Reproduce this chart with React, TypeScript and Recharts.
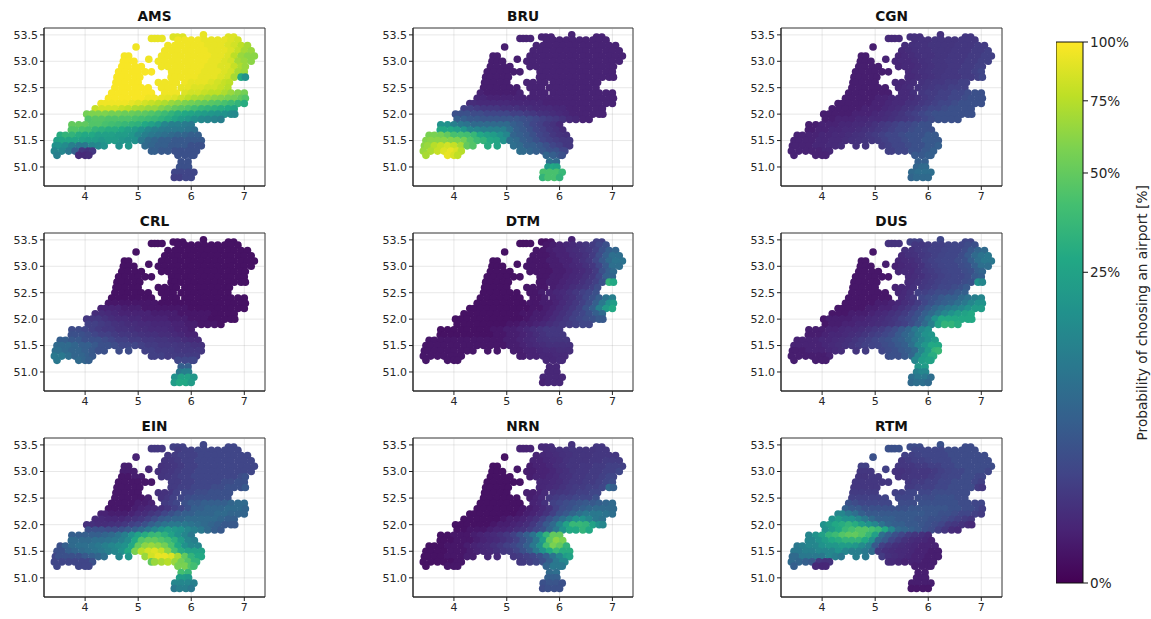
import React from 'react';
import { ScatterChart, Scatter, XAxis, YAxis, ReferenceLine, ReferenceArea, BarChart, Bar } from 'recharts';

const AIRPORTS = ['AMS', 'BRU', 'CGN', 'CRL', 'DTM', 'DUS', 'EIN', 'NRN', 'RTM'];
const X_TICKS = [4, 5, 6, 7];
const Y_TICKS = [51, 51.5, 52, 52.5, 53, 53.5];
const CBAR_TICKS = [0, 25, 50, 75, 100];
const VIRIDIS = ['#440154', '#482475', '#414487', '#355f8d', '#2a788e', '#21918c', '#22a884', '#44bf70', '#7ad151', '#bddf26', '#fde725'];

const ROW_LATS = [53.5, 53.46, 53.43, 53.4, 53.3, 53.27, 53.2, 53.1, 53.04, 53, 52.9, 52.8, 52.7, 52.6, 52.5, 52.4, 52.3, 52.2, 52.1, 52, 51.9, 51.8, 51.7, 51.6, 51.5, 51.4, 51.3, 51.22, 51.1, 51, 50.9, 50.8];
const ROW_LONS = [
  [6.23],
  [5.66, 5.74, 5.84, 6.7, 6.8],
  [5.25, 5.31, 5.37, 5.45],
  [5.75, 5.88, 6, 6.13, 6.25, 6.38, 6.5, 6.63, 6.75, 6.88],
  [5.56, 5.69, 5.81, 5.94, 6.06, 6.19, 6.31, 6.44, 6.56, 6.69, 6.81, 6.94, 7.06],
  [4.96],
  [5.5, 5.63, 5.75, 5.88, 6, 6.13, 6.25, 6.38, 6.5, 6.63, 6.75, 6.88, 7, 7.13],
  [4.74, 4.82, 5.44, 5.56, 5.69, 5.81, 5.94, 6.06, 6.19, 6.31, 6.44, 6.56, 6.69, 6.81, 6.94, 7.06, 7.19],
  [5.2],
  [4.72, 4.82, 4.92, 5.38, 5.5, 5.63, 5.75, 5.88, 6, 6.13, 6.25, 6.38, 6.5, 6.63, 6.75, 6.88, 7, 7.13],
  [4.69, 4.81, 4.94, 5.06, 5.44, 5.56, 5.69, 5.81, 5.94, 6.06, 6.19, 6.31, 6.44, 6.56, 6.69, 6.81, 6.94, 7.02],
  [4.63, 4.75, 4.88, 5, 5.13, 5.25, 5.63, 5.75, 5.88, 6, 6.13, 6.25, 6.38, 6.5, 6.63, 6.75, 6.88, 7],
  [4.6, 4.69, 4.81, 4.94, 5.03, 5.62, 5.69, 5.81, 5.94, 6.06, 6.19, 6.31, 6.44, 6.56, 6.69, 6.81, 6.94, 7.02],
  [4.58, 4.63, 4.75, 4.88, 5, 5.38, 5.5, 5.63, 5.72, 5.88, 6, 6.13, 6.25, 6.38, 6.5, 6.63, 6.72],
  [4.56, 4.69, 4.81, 4.94, 5.06, 5.19, 5.44, 5.56, 5.66, 5.81, 5.94, 6.06, 6.19, 6.31, 6.44, 6.56, 6.69],
  [4.5, 4.63, 4.75, 4.88, 5, 5.13, 5.25, 5.5, 5.63, 5.72, 5.88, 6, 6.13, 6.25, 6.38, 6.5, 6.63, 6.75, 6.88, 7],
  [4.44, 4.56, 4.69, 4.81, 4.94, 5.06, 5.19, 5.31, 5.44, 5.56, 5.69, 5.81, 5.94, 6.06, 6.19, 6.31, 6.44, 6.56, 6.69, 6.81, 6.94, 7.02],
  [4.3, 4.38, 4.5, 4.63, 4.75, 4.88, 5, 5.13, 5.25, 5.38, 5.5, 5.63, 5.75, 5.88, 6, 6.13, 6.25, 6.38, 6.5, 6.63, 6.75, 6.88, 7],
  [4.19, 4.31, 4.44, 4.56, 4.69, 4.81, 4.94, 5.06, 5.19, 5.31, 5.44, 5.56, 5.69, 5.81, 5.94, 6.06, 6.19, 6.31, 6.44, 6.56, 6.69, 6.81],
  [4.03, 4.13, 4.25, 4.38, 4.5, 4.63, 4.75, 4.88, 5, 5.13, 5.25, 5.38, 5.5, 5.63, 5.75, 5.88, 6, 6.13, 6.25, 6.38, 6.5, 6.63, 6.75, 6.82],
  [4.06, 4.19, 4.31, 4.44, 4.56, 4.69, 4.81, 4.94, 5.06, 5.19, 5.31, 5.44, 5.56, 5.69, 5.81, 5.94, 6.06, 6.19, 6.31, 6.44, 6.56],
  [3.75, 3.88, 4, 4.13, 4.25, 4.38, 4.5, 4.63, 4.75, 4.88, 5, 5.13, 5.25, 5.38, 5.5, 5.63, 5.75, 5.88, 6],
  [3.74, 3.81, 3.94, 4.06, 4.19, 4.31, 4.44, 4.56, 4.69, 4.81, 4.94, 5.06, 5.19, 5.31, 5.44, 5.56, 5.69, 5.81, 5.94, 6.06],
  [3.53, 3.63, 3.75, 3.88, 4, 4.13, 4.25, 4.38, 4.5, 4.63, 4.75, 4.88, 5, 5.13, 5.25, 5.38, 5.5, 5.63, 5.75, 5.88, 6, 6.13],
  [3.47, 3.56, 3.69, 3.81, 3.94, 4.06, 4.19, 4.31, 4.44, 4.56, 4.69, 4.81, 4.94, 5.06, 5.19, 5.31, 5.44, 5.56, 5.69, 5.81, 5.94, 6.06, 6.19],
  [3.44, 3.5, 3.63, 3.75, 3.88, 4, 4.13, 4.25, 4.36, 4.64, 4.82, 5.13, 5.25, 5.38, 5.5, 5.63, 5.75, 5.88, 6, 6.13, 6.19],
  [3.42, 3.56, 3.69, 3.81, 3.94, 4.06, 4.14, 5.25, 5.31, 5.44, 5.56, 5.69, 5.81, 5.94, 6.06, 6.1],
  [3.47, 3.88, 4, 4.07, 5.75, 5.88, 6, 6.05],
  [5.81, 5.94],
  [5.78, 5.88, 5.95],
  [5.69, 5.81, 5.94, 6.05],
  [5.68, 5.78, 5.9, 6],
];

const AMS = [
  [92], [88, 88, 88, 88, 88], [92, 92, 92, 92],
  [95, 95, 95, 95, 92, 92, 92, 92, 88, 84],
  [95, 95, 95, 95, 95, 95, 92, 92, 92, 88, 84, 77, 70],
  [95],
  [95, 95, 95, 95, 95, 95, 95, 92, 92, 92, 88, 80, 70, 66],
  [97, 97, 95, 95, 95, 95, 95, 95, 95, 95, 92, 92, 88, 77, 66, 62, 62],
  [95],
  [98, 98, 98, 95, 95, 95, 95, 95, 95, 95, 95, 92, 92, 88, 84, 70, 66, 62],
  [98, 98, 98, 98, 95, 95, 95, 95, 95, 95, 95, 92, 92, 88, 88, 80, 72, 66],
  [98, 98, 98, 98, 98, 98, 95, 95, 95, 95, 95, 92, 92, 92, 88, 84, 70, 66],
  [98, 98, 98, 98, 98, 95, 95, 95, 95, 95, 92, 92, 92, 88, 84, 70, 28, 18],
  [98, 98, 98, 98, 98, 95, 95, 95, 95, 95, 92, 92, 92, 88, 84, 80, 77],
  [98, 98, 98, 98, 98, 98, 95, 95, 95, 92, 92, 88, 88, 84, 84, 80, 75],
  [98, 98, 98, 98, 98, 98, 98, 95, 95, 95, 88, 84, 84, 80, 77, 77, 72, 66, 60, 55],
  [98, 98, 98, 98, 98, 98, 95, 95, 92, 90, 88, 82, 77, 72, 70, 66, 62, 60, 57, 55, 50, 45],
  [95, 95, 95, 95, 95, 92, 88, 84, 80, 76, 72, 66, 62, 58, 55, 52, 50, 47, 45, 42, 38, 34, 30],
  [80, 84, 84, 84, 80, 77, 72, 70, 66, 66, 60, 55, 50, 47, 44, 40, 36, 34, 32, 30, 28, 26],
  [55, 58, 58, 58, 55, 55, 52, 52, 50, 48, 45, 42, 38, 34, 30, 28, 26, 24, 22, 20, 19, 18, 16, 15],
  [44, 46, 46, 44, 44, 44, 44, 42, 40, 38, 36, 33, 30, 26, 22, 20, 17, 15, 14, 13, 12],
  [50, 50, 49, 45, 45, 42, 40, 38, 36, 34, 32, 28, 24, 20, 14, 12, 12, 11, 10],
  [45, 45, 42, 40, 34, 32, 30, 30, 28, 24, 22, 18, 14, 12, 11, 10, 10, 10, 9, 8],
  [30, 34, 34, 30, 28, 28, 24, 24, 24, 22, 22, 20, 15, 12, 10, 9, 8, 7, 6, 6, 5, 5],
  [24, 26, 26, 26, 24, 22, 22, 20, 22, 22, 20, 18, 18, 10, 7, 6, 5, 5, 4, 4, 4, 4, 4],
  [18, 18, 16, 12, 10, 10, 14, 15, 18, 18, 20, 7, 6, 5, 5, 4, 4, 4, 3, 3, 3],
  [14, 14, 10, 5, 1, .8, 1, 5, 5, 4, 4, 3, 3, 3, 3, 3],
  [12, .5, .5, .6, 3, 3, 3, 3],
  [3, 3], [3, 3, 3], [2, 2, 2, 2], [1.5, 1.5, 2, 2],
];

const BRU = [
  [.3], [.3, .3, .3, .3, .3], [.3, .3, .3, .3],
  [.3, .3, .3, .3, .3, .3, .3, .3, .3, .3],
  [.3, .3, .3, .3, .3, .3, .3, .3, .3, .3, .3, .3, .3],
  [.2],
  [.3, .3, .3, .3, .3, .3, .3, .3, .3, .3, .3, .3, .3, .3],
  [.2, .2, .3, .3, .3, .3, .3, .3, .3, .3, .3, .3, .3, .3, .3, .3, .3],
  [.2],
  [.2, .2, .2, .3, .3, .3, .3, .3, .3, .3, .3, .3, .3, .3, .3, .3, .3, .3],
  [.2, .2, .2, .2, .3, .3, .3, .3, .3, .3, .3, .3, .3, .3, .3, .3, .3, .3],
  [.2, .2, .2, .2, .2, .2, .3, .3, .3, .3, .3, .3, .3, .3, .3, .3, .3, .3],
  [.2, .2, .2, .2, .2, .3, .3, .3, .3, .3, .3, .3, .3, .3, .3, .3, .3, .3],
  [.2, .2, .2, .2, .2, .3, .3, .3, .3, .3, .3, .3, .3, .3, .3, .3, .3],
  [.2, .2, .2, .2, .2, .2, .3, .3, .3, .3, .3, .3, .3, .3, .3, .3, .3],
  [.3, .2, .2, .2, .2, .2, .3, .3, .3, .3, .3, .3, .3, .3, .3, .3, .3, .3, .3, .3],
  [.4, .4, .3, .3, .3, .3, .3, .3, .3, .3, .3, .3, .3, .3, .3, .3, .3, .3, .3, .3, .3, .3],
  [.6, .6, .5, .5, .5, .5, .5, .4, .4, .4, .4, .4, .3, .3, .3, .3, .3, .3, .3, .3, .3, .3, .3],
  [1.5, 1.5, 1.2, 1, 1, 1, .8, .8, .8, .6, .6, .5, .5, .5, .4, .4, .3, .3, .3, .3, .3, .3],
  [3, 3, 3, 2.5, 2.5, 2, 2, 2, 2, 1.5, 1.5, 1.2, 1, .8, .7, .6, .5, .4, .3, .3, .3, .3, .3, .3],
  [5, 5, 4, 4, 3.5, 3.5, 3.5, 3.5, 3.5, 3.5, 3, 2.5, 2, 1.5, 1.2, 1, .8, .5, .4, .3, .3],
  [18, 18, 12, 10, 9, 7, 7, 7, 7, 7, 7, 5, 4, 3, 2, 1.5, 1, .8, .5],
  [28, 28, 28, 24, 20, 14, 14, 12, 12, 12, 12, 8, 5, 4, 3, 2, 1.5, 1, .8, .6],
  [57, 57, 55, 50, 42, 42, 40, 36, 28, 24, 22, 18, 14, 6, 5, 4, 3, 2, 1.5, 1, .8, .7],
  [60, 62, 62, 62, 60, 58, 55, 45, 38, 34, 28, 26, 18, 8, 7, 5, 4, 3, 2, 1.5, 1.2, 1, 1],
  [62, 66, 75, 80, 84, 80, 70, 50, 45, 30, 26, 8, 7, 5, 5, 4, 3, 2, 1.5, 1, 1],
  [66, 72, 80, 88, 92, 86, 75, 8, 7, 6, 5, 4, 3, 3, 2, 2],
  [70, 92, 86, 78, 6, 5, 4, 3],
  [8, 7], [22, 28, 26], [42, 42, 42, 36], [34, 42, 42, 34],
];

const CGN = [
  [.8], [.7, .7, .7, 1, 1], [.5, .5, .5, .5],
  [.7, .8, .8, .9, .9, .9, .9, 1, 1, 1],
  [.6, .7, .8, .8, .9, .9, .9, .9, 1, 1, 1, 1.2, 1.2],
  [.2],
  [.5, .6, .7, .8, .8, .9, .9, .9, 1, 1, 1, 1.2, 1.2, 1.5],
  [.2, .2, .4, .5, .6, .7, .8, .8, .9, .9, 1, 1, 1, 1.2, 1.2, 1.5, 1.5],
  [.3],
  [.2, .2, .2, .4, .5, .5, .6, .7, .8, .9, .9, 1, 1, 1, 1.2, 1.2, 1.5, 1.5],
  [.2, .2, .2, .2, .4, .5, .5, .6, .7, .8, .9, .9, 1, 1, 1.2, 1.2, 1.5, 1.5],
  [.2, .2, .2, .2, .2, .2, .5, .6, .7, .8, .9, .9, 1, 1, 1.2, 1.2, 1.5, 2],
  [.2, .2, .2, .2, .2, .5, .5, .6, .7, .8, .9, 1, 1, 1, 1.2, 1.2, 1.5, 2],
  [.2, .2, .2, .2, .2, .4, .4, .5, .6, .8, .9, 1, 1, 1.2, 1.2, 1.5, 1.5],
  [.2, .2, .2, .2, .2, .2, .4, .5, .6, .8, .9, 1, 1.2, 1.2, 1.5, 1.5, 1.5],
  [.2, .2, .2, .2, .2, .2, .2, .5, .5, .7, 1, 1.2, 1.2, 1.5, 1.5, 2, 2, 2.5, 3, 3],
  [.2, .2, .2, .2, .2, .3, .3, .4, .5, .5, .6, .8, 1, 1.2, 1.5, 1.5, 2, 2, 2.5, 3, 3, 3],
  [.2, .2, .2, .2, .2, .2, .3, .3, .4, .5, .5, .7, .8, 1, 1.2, 1.5, 2, 2, 2.5, 3, 3, 3, 3],
  [.2, .2, .2, .2, .2, .3, .3, .3, .4, .5, .6, .8, .9, 1.2, 1.5, 2, 2, 2.5, 3, 3, 3, 3],
  [.2, .2, .2, .2, .2, .3, .3, .3, .4, .5, .6, .7, .9, 1.2, 1.5, 2, 2.5, 3, 3, 3, 3, 3, 3, 3],
  [.2, .2, .3, .3, .3, .4, .4, .5, .5, .6, .7, .9, 1, 1.2, 1.5, 2, 2.5, 3, 3, 3, 3],
  [.2, .2, .3, .3, .3, .4, .4, .5, .5, .6, .8, 1, 1.2, 1.5, 2, 2, 2.5, 3, 3],
  [.2, .2, .3, .3, .4, .4, .5, .5, .6, .7, .8, 1, 1.2, 1.5, 2, 2, 2.5, 3, 3, 3],
  [.3, .3, .3, .3, .4, .4, .5, .5, .6, .7, .8, 1, 1.2, 1.5, 2, 2, 2.5, 3, 3, 3, 4, 4],
  [.3, .3, .3, .3, .4, .4, .5, .5, .6, .7, .8, .9, 1, 1.2, 1.5, 2, 2, 2.5, 3, 3, 4, 4, 4],
  [.3, .3, .3, .3, .4, .4, .5, .5, .6, .8, .9, 1.2, 1.5, 2, 2, 2.5, 3, 3, 4, 4, 5],
  [.3, .3, .3, .3, .3, .4, .4, 1.5, 1.5, 2, 2, 3, 3, 4, 4, 5],
  [.3, .3, .3, .3, 4, 4, 5, 5],
  [5, 5], [6, 7, 7], [7, 8, 8, 8], [6, 7, 7, 7],
];

const CRL = [
  [.05], [.05, .05, .05, .05, .05], [.05, .05, .05, .05],
  [.05, .05, .05, .05, .05, .05, .05, .05, .05, .05],
  [.05, .05, .05, .05, .05, .05, .05, .05, .05, .05, .05, .05, .05],
  [.05],
  [.05, .05, .05, .05, .05, .05, .05, .05, .05, .05, .05, .05, .05, .05],
  [.05, .05, .05, .05, .05, .05, .05, .05, .05, .05, .05, .05, .05, .05, .05, .05, .05],
  [.05],
  [.05, .05, .05, .05, .05, .05, .05, .05, .05, .05, .05, .05, .05, .05, .05, .05, .05, .05],
  [.05, .05, .05, .05, .05, .05, .05, .05, .05, .05, .05, .05, .05, .05, .05, .05, .05, .05],
  [.05, .05, .05, .05, .05, .05, .05, .05, .05, .05, .05, .05, .05, .05, .05, .05, .05, .05],
  [.05, .05, .05, .05, .05, .05, .05, .05, .05, .05, .05, .05, .05, .05, .05, .05, .05, .05],
  [.05, .05, .05, .05, .05, .05, .05, .05, .05, .05, .05, .05, .05, .05, .05, .05, .05],
  [.05, .05, .05, .05, .05, .05, .05, .05, .05, .05, .05, .05, .05, .05, .05, .05, .05],
  [.05, .05, .05, .05, .05, .05, .05, .05, .05, .05, .05, .05, .05, .05, .05, .05, .05, .05, .05, .05],
  [.1, .1, .1, .1, .1, .1, .1, .1, .05, .05, .05, .05, .05, .05, .05, .05, .05, .05, .05, .05, .05, .05],
  [.3, .3, .3, .3, .2, .2, .2, .1, .1, .1, .1, .1, .1, .1, .05, .05, .05, .05, .05, .05, .05, .05, .05],
  [.6, .6, .5, .4, .3, .3, .3, .3, .3, .2, .2, .2, .2, .1, .1, .1, .1, .1, .05, .05, .05, .05],
  [1, 1, 1, .8, .6, .5, .5, .4, .4, .3, .3, .3, .3, .2, .2, .2, .1, .1, .1, .05, .05, .05, .05, .05],
  [1.5, 1.5, 1.2, 1, .8, .7, .6, .6, .5, .5, .4, .4, .4, .3, .3, .2, .2, .1, .1, .1, .05],
  [2.5, 2.5, 2, 1.5, 1.2, 1, 1, .8, .8, .7, .6, .6, .5, .5, .5, .4, .3, .3, .2],
  [3, 3, 3, 2.5, 2, 1.5, 1.5, 1.2, 1, 1, .9, .8, .7, .7, .6, .6, .5, .4, .3, .3],
  [5, 5, 4, 4, 3, 3, 3, 2.5, 2, 1.5, 1.5, 1.2, 1.2, 1, 1, .9, .9, .8, .7, .6, .5, .5],
  [7, 7, 7, 6, 5, 5, 4, 3, 3, 2.5, 2, 2, 2, 1.5, 1.2, 1.2, 1, 1, 1, .9, .9, .8, .8],
  [8, 8, 7, 6, 6, 5, 4, 3, 3, 2.5, 2.5, 1.5, 1.5, 1.2, 1.2, 1.2, 1, 1, 1, 1, 1],
  [10, 10, 8, 6, 6, 5, 4, 1.5, 1.5, 1.5, 1.2, 1.2, 1.2, 1.2, 1.2, 1.2],
  [10, 7, 6, 5, 2, 2, 2, 2],
  [5, 5], [10, 12, 12], [18, 25, 25, 20], [22, 28, 28, 22],
];

const DTM = [
  [.3], [.05, .05, .1, 1.5, 1.5], [.05, .05, .05, .05],
  [.1, .2, .3, .4, .5, .7, .9, 1.2, 2, 3],
  [.1, .1, .2, .3, .3, .5, .6, .8, 1, 1.5, 3, 5, 6],
  [.05],
  [.1, .1, .1, .2, .3, .3, .5, .6, .8, 1.2, 2.5, 5, 8, 8],
  [.05, .05, .1, .1, .1, .2, .2, .3, .3, .5, .7, 1, 2, 4, 7, 9, 9],
  [.05],
  [.05, .05, .05, .1, .1, .1, .1, .2, .2, .3, .4, .5, .7, 1, 2, 4, 8, 8],
  [.05, .05, .05, .05, .1, .1, .1, .1, .2, .2, .3, .4, .5, .7, 1.2, 3, 5, 7],
  [.05, .05, .05, .05, .05, .05, .1, .1, .2, .2, .3, .4, .5, .7, 1, 2, 5, 6],
  [.05, .05, .05, .05, .05, .1, .1, .2, .2, .3, .4, .5, .7, 1, 1.5, 3, 34, 28],
  [.05, .05, .05, .05, .05, .1, .1, .1, .1, .2, .3, .4, .6, .8, 1, 1.5, 2.5],
  [.05, .05, .05, .05, .05, .05, .1, .1, .2, .3, .4, .5, .7, 1, 1.5, 2, 3],
  [.05, .05, .05, .05, .05, .05, .05, .1, .1, .2, .3, .4, .6, .8, 1.2, 2, 3, 5, 9, 12],
  [.05, .05, .05, .05, .05, .05, .05, .05, .1, .1, .2, .2, .3, .5, .7, 1, 1.5, 2.5, 5, 10, 18, 22],
  [.05, .05, .05, .05, .05, .05, .05, .05, .05, .05, .1, .1, .2, .3, .5, .7, 1, 1.5, 3, 5, 12, 22, 28],
  [.05, .05, .05, .05, .05, .05, .05, .05, .05, .1, .1, .2, .2, .3, .5, .7, 1, 1.5, 2, 3, 5, 7],
  [.05, .05, .05, .05, .05, .05, .05, .05, .05, .05, .05, .1, .2, .2, .3, .5, .7, 1, 1.5, 2, 2.5, 3, 4, 4],
  [.05, .05, .05, .05, .05, .05, .05, .05, .1, .1, .2, .2, .3, .4, .6, .8, 1, 1.2, 1.5, 2, 2],
  [.05, .05, .05, .05, .05, .05, .05, .05, .1, .1, .2, .2, .3, .4, .6, .8, 1, 1, 1],
  [.05, .05, .05, .05, .05, .05, .05, .05, .05, .1, .1, .2, .2, .3, .4, .6, .8, 1, 1, 1],
  [.1, .1, .1, .1, .1, .1, .1, .1, .1, .1, .1, .1, .2, .2, .3, .4, .5, .7, .8, .9, .9, .9],
  [.1, .1, .1, .1, .1, .1, .1, .1, .1, .1, .1, .1, .1, .2, .2, .3, .4, .5, .6, .7, .7, .7, .7],
  [.1, .1, .1, .1, .1, .1, .1, .1, .1, .1, .1, .2, .2, .3, .3, .4, .5, .5, .6, .6, .6],
  [.1, .1, .1, .1, .1, .1, .1, .2, .2, .3, .3, .4, .4, .5, .5, .5],
  [.1, .1, .1, .1, .4, .4, .5, .5],
  [.4, .4], [.4, .4, .4], [.4, .4, .4, .4], [.3, .4, .4, .4],
];

const DUS = [
  [2], [1.5, 1.5, 1.5, 2, 2], [.8, .8, .8, .8],
  [1, 1, 1.2, 1.5, 1.5, 1.8, 2, 2, 2.5, 3],
  [.7, .8, 1, 1.2, 1.5, 1.5, 1.8, 2, 2, 2.5, 4, 6, 7],
  [.1],
  [.5, .7, .8, 1, 1.2, 1.5, 1.8, 2, 2, 2.5, 4, 7, 9, 10],
  [.1, .1, .4, .5, .6, .8, 1.2, 1.5, 1.8, 2, 2, 2.5, 3, 5, 8, 10, 10],
  [.2],
  [.1, .1, .1, .3, .4, .5, .6, .8, 1.2, 1.5, 1.8, 2, 2, 2.5, 3, 5, 8, 8],
  [.1, .1, .1, .1, .4, .5, .5, .7, 1, 1.2, 1.5, 1.8, 2, 2, 2.5, 3, 5, 6],
  [.1, .1, .1, .1, .1, .1, .5, .6, .7, 1, 1.2, 1.5, 1.8, 2, 2, 2.5, 4, 5],
  [.1, .1, .1, .1, .1, .5, .6, .8, 1, 1.2, 1.5, 1.8, 2, 2, 2.5, 3, 18, 14],
  [.1, .1, .1, .1, .1, .3, .4, .5, .7, 1, 1.2, 1.5, 2, 2, 2.5, 3, 4],
  [.1, .1, .1, .1, .1, .1, .4, .5, .7, 1.5, 1.5, 2, 2.5, 2.5, 3, 4, 5],
  [.1, .1, .1, .1, .1, .1, .1, .5, .7, 1, 2, 2.5, 3, 4, 5, 5, 7, 9, 12, 14],
  [.1, .1, .1, .1, .1, .2, .2, .3, .4, .6, .8, 1.2, 2, 3, 4, 5, 6, 8, 10, 14, 18, 18],
  [.1, .1, .1, .1, .1, .2, .2, .3, .3, .5, .7, 1, 1.5, 2.5, 4, 6, 8, 10, 12, 14, 18, 22, 22],
  [.1, .1, .1, .2, .2, .2, .3, .4, .5, .7, .9, 1.2, 2, 3, 5, 7, 10, 14, 18, 22, 25, 28],
  [.1, .2, .2, .2, .2, .3, .3, .4, .5, .6, .8, 1, 1.5, 2, 3, 5, 9, 18, 28, 28, 28, 28, 28, 28],
  [.1, .2, .2, .3, .3, .4, .4, .5, .6, .7, .9, 1.2, 1.5, 2.5, 4, 7, 12, 25, 34, 34, 30],
  [.2, .2, .2, .3, .3, .4, .5, .5, .6, .8, 1, 1.2, 1.8, 2.5, 4, 6, 10, 14, 18],
  [.2, .2, .2, .3, .4, .4, .5, .6, .7, .9, 1.2, 1.5, 2, 2.5, 4, 6, 8, 12, 18, 20],
  [.3, .3, .3, .3, .4, .4, .5, .6, .7, .9, 1.2, 1.5, 2, 2.5, 3, 4, 5, 7, 10, 14, 18, 22],
  [.3, .3, .3, .3, .3, .4, .5, .6, .7, .9, 1.2, 1.5, 1.8, 2, 2.5, 3, 4, 5, 8, 14, 20, 28, 28],
  [.2, .2, .2, .3, .3, .3, .4, .5, .6, .9, 1.2, 2, 2.5, 3, 4, 5, 7, 14, 22, 34, 36],
  [.2, .2, .2, .2, .2, .2, .3, 2.5, 3, 3, 4, 6, 14, 22, 30, 30],
  [.2, .2, .2, .2, 14, 22, 25, 25],
  [20, 22], [12, 14, 14], [8, 10, 10, 8], [7, 8, 8, 7],
];

const EIN = [
  [2], [1.5, 1.5, 1.5, 2, 2], [1, 1, 1, 1],
  [1.2, 1.5, 1.5, 2, 2, 2, 2, 2, 2, 2],
  [1, 1.2, 1.5, 1.5, 1.5, 2, 2, 2, 2, 2, 2, 2, 2],
  [.3],
  [.9, 1, 1.2, 1.5, 1.5, 2, 2, 2, 2, 2, 2, 2, 2, 2],
  [.2, .2, .8, .9, 1, 1.2, 1.5, 1.5, 2, 2, 2, 2, 2, 2, 2, 2, 2],
  [.4],
  [.2, .2, .2, .7, .9, 1, 1.2, 1.5, 1.5, 2, 2, 2, 2, 2, 2, 2, 2, 2],
  [.1, .1, .2, .2, .9, 1, 1.2, 1.5, 1.5, 2, 2, 2, 2, 2, 2, 2, 2.5, 3],
  [.1, .1, .1, .1, .1, .1, 1.2, 1.2, 1.5, 1.5, 2, 2, 2, 2, 2.5, 2.5, 3, 3],
  [.1, .1, .1, .1, .1, 1.2, 1.2, 1.5, 1.5, 2, 2, 2, 2.5, 2.5, 3, 3, 3, 4],
  [.1, .1, .1, .1, .1, .7, .8, 1, 1.5, 2, 2, 2.5, 2.5, 3, 3, 3, 3],
  [.1, .1, .1, .1, .1, .2, .8, 1, 1.5, 2, 2.5, 3, 3, 3, 3, 3, 3],
  [.1, .1, .1, .1, .2, .2, .3, 1.2, 1.5, 2, 3, 4, 4, 5, 5, 5, 5, 6, 7, 7],
  [.1, .1, .1, .1, .2, .3, .4, .5, .7, 1, 1.5, 2, 3, 5, 5, 6, 6, 6, 7, 7, 7, 6],
  [.3, .3, .2, .2, .2, .3, .5, .6, .9, 1.2, 2, 3, 4, 5, 5, 6, 6, 6, 7, 7, 6, 6, 6],
  [.5, .5, .4, .4, .4, .6, .8, 1, 1.5, 2.5, 4, 5, 6, 6, 7, 7, 7, 7, 7, 6, 5, 5],
  [.7, .7, .6, .6, .7, .8, 1, 1.5, 2, 3, 5, 7, 9, 10, 10, 10, 9, 8, 7, 6, 5, 4, 4, 4],
  [3, 3, 3, 2.5, 2.5, 3, 4, 5, 7, 10, 14, 18, 22, 20, 18, 14, 12, 10, 7, 5, 4],
  [5, 5, 5, 5, 5, 6, 7, 9, 12, 18, 25, 30, 36, 38, 32, 25, 18, 14, 10],
  [7, 7, 7, 7, 8, 8, 9, 10, 12, 16, 28, 45, 50, 50, 45, 40, 32, 22, 14, 12],
  [3, 5, 7, 8, 8, 9, 10, 12, 14, 16, 18, 28, 50, 62, 66, 62, 55, 42, 28, 18, 14, 14],
  [3, 3, 5, 6, 7, 8, 9, 10, 12, 14, 18, 28, 57, 75, 84, 88, 80, 62, 42, 30, 25, 25, 25],
  [2, 3, 3, 3, 3, 4, 5, 6, 8, 14, 20, 66, 84, 92, 92, 88, 70, 50, 34, 28, 28],
  [2, 2, 2, 2, 2, 2, 3, 50, 66, 70, 75, 66, 55, 45, 34, 34],
  [2, 2, 2, 2, 57, 57, 45, 40],
  [41, 36], [22, 22, 20], [14, 14, 14, 12], [10, 12, 12, 10],
];

const NRN = [
  [.8], [.5, .5, .6, 1, 1], [.3, .3, .3, .3],
  [.5, .6, .7, .8, .9, .9, .9, .9, 1, 1],
  [.3, .4, .5, .6, .7, .8, .9, .9, .9, 1, 1, 1, 1],
  [.05],
  [.3, .3, .4, .5, .6, .8, .9, .9, .9, 1, 1, 1.2, 1.2, 1.2],
  [.05, .05, .2, .3, .3, .4, .6, .7, .9, .9, 1, 1, 1.2, 1.2, 1.5, 1.5, 1.5],
  [.1],
  [.05, .05, .05, .2, .2, .3, .3, .4, .6, .7, .9, 1, 1, 1.2, 1.2, 1.5, 1.5, 2],
  [.05, .05, .05, .05, .2, .3, .3, .4, .5, .7, .8, 1, 1, 1.2, 1.2, 1.5, 2, 2],
  [.05, .05, .05, .05, .05, .05, .4, .4, .5, .6, .8, 1, 1, 1.2, 1.2, 1.5, 2, 2.5],
  [.05, .05, .05, .05, .05, .4, .4, .5, .6, .8, 1, 1.2, 1.2, 1.5, 1.5, 2, 7, 5],
  [.05, .05, .05, .05, .05, .2, .2, .3, .5, .8, .9, 1, 1.2, 1.5, 1.5, 2, 2],
  [.05, .05, .05, .05, .05, .05, .2, .3, .5, 1, 1.2, 1.5, 1.5, 2, 2, 2, 3],
  [.05, .05, .05, .05, .05, .05, .05, .3, .4, .7, 1.5, 2, 2.5, 3, 3.5, 4, 4, 5, 6, 7],
  [.05, .05, .05, .05, .05, .05, .05, .1, .2, .3, .5, .8, 1.5, 2.5, 3, 4, 5, 6, 7, 7, 7, 7],
  [.05, .05, .05, .05, .05, .05, .05, .05, .1, .2, .3, .5, .8, 1.5, 3, 4, 6, 8, 10, 10, 10, 9, 8],
  [.05, .05, .05, .05, .05, .05, .1, .2, .2, .3, .5, .8, 1.5, 3, 5, 8, 12, 18, 18, 14, 10, 9],
  [.05, .05, .05, .05, .05, .05, .1, .2, .2, .3, .4, .6, 1, 2, 4, 7, 14, 25, 36, 36, 34, 25, 18, 14],
  [.05, .05, .1, .1, .1, .2, .3, .3, .4, .6, .8, 1.2, 2, 3, 6, 10, 18, 28, 28, 34, 28],
  [.05, .05, .1, .1, .1, .2, .3, .4, .5, .7, 1, 1.5, 3, 5, 9, 18, 34, 50, 50],
  [.05, .05, .05, .1, .1, .1, .2, .3, .4, .5, .7, 1, 1.5, 3, 5, 10, 22, 49, 62, 57],
  [.05, .05, .05, .1, .1, .1, .2, .3, .4, .5, .7, 1, 1.5, 2, 3, 5, 10, 18, 40, 57, 50, 34],
  [.05, .05, .05, .05, .1, .1, .1, .2, .3, .4, .5, .7, 1, 1.2, 1.8, 3, 5, 10, 18, 28, 36, 30, 30],
  [.05, .05, .05, .05, .1, .1, .1, .2, .2, .4, .5, 1, 1.2, 1.5, 2, 3, 5, 9, 14, 22, 25],
  [.05, .05, .05, .05, .05, .1, .1, 1, 1.2, 1.5, 2, 3, 5, 10, 14, 14],
  [.05, .1, .1, .1, 6, 10, 10, 10],
  [7, 8], [5, 5, 5], [3, 3.5, 3.5, 3], [2.5, 3, 3, 3],
];

const RTM = [
  [3], [2.5, 2.5, 2.5, 2.5, 2.5], [3, 3, 3, 3],
  [2, 2, 2, 2, 2, 2.5, 2.5, 2.5, 2.5, 2.5],
  [1.5, 1.5, 1.8, 2, 2, 2, 2, 2.5, 2.5, 2.5, 2.5, 2.5, 2.5],
  [3],
  [1, 1.2, 1.5, 1.5, 1.8, 2, 2, 2, 2.5, 2.5, 2.5, 2.5, 2.5, 2.5],
  [1.5, 1.5, 1, 1, 1, 1.2, 1.2, 1.5, 1.5, 2, 2, 2.5, 2.5, 2.5, 2.5, 2.5, 2.5],
  [1.5],
  [1, 1, 1, .8, .8, .9, 1, 1, 1, 1.2, 1.5, 1.8, 2, 2, 2.5, 2.5, 2.5, 2],
  [.9, .9, 1, 1, .8, .9, 1, 1, 1, 1.2, 1.5, 1.8, 2, 2, 2.5, 2.5, 2, 2],
  [1, 1, 1, 1, 1, 1, 1, 1.2, 1.2, 1.5, 1.5, 2, 2, 2.5, 2.5, 2.5, 2, 1.5],
  [1, 1, 1, 1, 1, 1.2, 1.2, 1.5, 1.5, 1.5, 2, 2, 2.5, 2.5, 2.5, 2.5, 1.2, 1],
  [1.2, 1.2, 1.2, 1.2, 1.2, 1.5, 1.5, 1.8, 2, 2, 2, 2.5, 2.5, 2.5, 2.5, 2.5, 2.5],
  [1.5, 1.5, 1.5, 1.5, 1.5, 1.8, 2, 2, 2, 2.5, 2.5, 2.5, 3, 3, 3, 2.5, 2.5],
  [3, 2.5, 2, 2, 2, 2, 2, 2.5, 2.5, 2.5, 3, 3, 3, 3, 3, 3, 2.5, 2.5, 2, 2],
  [5, 4, 4, 3, 3, 3, 3, 3, 3, 3, 3.5, 3.5, 3.5, 3.5, 3.5, 3.5, 3, 3, 2.5, 2.5, 2, 1.5],
  [14, 14, 10, 8, 5, 4, 4, 4, 4, 4, 4, 4, 4, 4, 3.5, 3.5, 3, 3, 2.5, 2, 2, 1.5, 1.2],
  [18, 22, 18, 18, 14, 10, 7, 5, 5, 5, 4, 4, 4, 3.5, 3.5, 3, 3, 2.5, 2, 1.5, 1.2, 1],
  [18, 22, 28, 30, 34, 30, 22, 18, 14, 9, 6, 5, 5, 4, 4, 3.5, 3, 2.5, 2, 1.2, 1, .8, .6, .5],
  [18, 22, 28, 36, 41, 45, 45, 41, 36, 28, 14, 7, 6, 5, 4, 3, 2.5, 1.5, 1, .6, .5],
  [14, 18, 24, 34, 38, 45, 49, 50, 45, 36, 24, 8, 5, 3, 2, 1.2, .9, .7, .5],
  [14, 14, 18, 22, 28, 30, 34, 34, 34, 28, 18, 6, 4, 2, 1.2, .8, .6, .5, .4, .3],
  [10, 12, 14, 14, 18, 20, 20, 22, 22, 20, 16, 12, 4, 1.5, 1, .7, .6, .5, .4, .3, .3, .3],
  [10, 10, 12, 12, 14, 14, 14, 18, 14, 12, 12, 10, 7, 1, .7, .6, .5, .5, .4, .3, .3, .2, .2],
  [7, 7, 10, 10, 10, 10, 14, 12, 10, 12, 10, 1.2, .7, .6, .5, .4, .3, .3, .2, .2, .2],
  [7, 6, 5, 4, 1, .8, .8, .6, .5, .4, .3, .3, .3, .2, .2, .2],
  [5, .5, .4, .4, .2, .2, .2, .2],
  [.2, .2], [.2, .2, .2], [.2, .2, .2, .2], [.1, .1, .1, .1],
];

const VALUES = [AMS, BRU, CGN, CRL, DTM, DUS, EIN, NRN, RTM];

const GAMMA = 0.4;
const FONT = '"DejaVu Sans", sans-serif';
const norm = (p: number) => Math.pow(p / 100, GAMMA);

function hexRgb(h: string) {
  return [1, 3, 5].map((i) => parseInt(h.slice(i, i + 2), 16));
}
function viridis(t: number) {
  const x = Math.max(0, Math.min(1, t)) * (VIRIDIS.length - 1);
  const i = Math.min(VIRIDIS.length - 2, Math.floor(x));
  const a = hexRgb(VIRIDIS[i]);
  const b = hexRgb(VIRIDIS[i + 1]);
  const f = x - i;
  return `rgb(${a.map((v, k) => Math.round(v + (b[k] - v) * f)).join(',')})`;
}

function pointsFor(rows: number[][]) {
  return ROW_LATS.flatMap((lat, i) =>
    ROW_LONS[i].map((lon, j) => {
      const row = rows[i];
      const p = row[j] ?? row[row.length - 1];
      return { lon, lat, p };
    }),
  );
}

const Dot = (props: any) => {
  const { cx, cy, payload } = props;
  return <circle cx={cx} cy={cy} r={3.8} fill={viridis(norm(payload.p))} />;
};

const COL_LEFT = [44, 413, 781];
const COL_WIDTH = [221, 220, 221];
const ROW_TOP = [28, 233, 438];
const ROW_HEIGHT = [158, 158, 159];
const X_DOMAIN = [3.225, 7.39];
const Y_DOMAIN = [50.64, 53.63];
const AXIS_W = 40;
const TOP_PAD = 24;
const BOTTOM_PAD = 24;

function Panel({ name, rows, col, row }: { name: string; rows: number[][]; col: number; row: number }) {
  const w = COL_WIDTH[col];
  const h = ROW_HEIGHT[row];
  const data = pointsFor(rows);
  const tick = { fontSize: 11, fontFamily: FONT, fill: '#262626' };
  const grid = 'rgba(150,150,150,0.22)';
  return (
    <div style={{ position: 'absolute', left: COL_LEFT[col] - AXIS_W, top: ROW_TOP[row] - TOP_PAD }}>
      <ScatterChart
        width={w + AXIS_W + 4}
        height={h + TOP_PAD + BOTTOM_PAD}
        margin={{ top: TOP_PAD, right: 4, bottom: 0, left: 0 }}
      >
        <XAxis
          type="number"
          dataKey="lon"
          domain={X_DOMAIN}
          ticks={X_TICKS}
          allowDataOverflow
          height={BOTTOM_PAD}
          tick={tick}
          tickSize={4}
          stroke="#222"
        />
        <YAxis
          type="number"
          dataKey="lat"
          domain={Y_DOMAIN}
          ticks={Y_TICKS}
          allowDataOverflow
          width={AXIS_W}
          tick={tick}
          tickSize={4}
          stroke="#222"
          tickFormatter={(v: number) => v.toFixed(1)}
        />
        <Scatter data={data} isAnimationActive={false} shape={Dot} />
        {X_TICKS.map((v) => (
          <ReferenceLine key={`x${v}`} x={v} stroke={grid} strokeWidth={1} />
        ))}
        {Y_TICKS.map((v) => (
          <ReferenceLine key={`y${v}`} y={v} stroke={grid} strokeWidth={1} />
        ))}
        <ReferenceArea x1={X_DOMAIN[0]} x2={X_DOMAIN[1]} y1={Y_DOMAIN[0]} y2={Y_DOMAIN[1]} fill="none" stroke="#333" strokeWidth={1} />
        <text x={AXIS_W + w / 2} y={TOP_PAD - 7} textAnchor="middle" fontFamily={FONT} fontWeight="bold" fontSize={13.7} fill="#111">
          {name}
        </text>
      </ScatterChart>
    </div>
  );
}

const CBAR_DATA = [{ name: 'scale', value: 1 }];

function Colorbar() {
  const top = 42;
  const height = 541;
  const barW = 27;
  const axisW = 46;
  const stops = VIRIDIS.map((c, i) => <stop key={c} offset={`${(i / (VIRIDIS.length - 1)) * 100}%`} stopColor={c} />);
  return (
    <div style={{ position: 'absolute', left: 1056, top: top - 12 }}>
      <BarChart
        width={barW + axisW}
        height={height + 24}
        data={CBAR_DATA}
        margin={{ top: 12, right: 0, bottom: 12, left: 0 }}
        barCategoryGap={0}
      >
        <defs>
          <linearGradient id="viridisBar" x1="0" y1="1" x2="0" y2="0">
            {stops}
          </linearGradient>
        </defs>
        <XAxis dataKey="name" hide />
        <YAxis
          orientation="right"
          type="number"
          domain={[0, 1]}
          ticks={CBAR_TICKS.map(norm)}
          width={axisW}
          tickSize={5}
          axisLine={false}
          stroke="#111"
          tick={{ fontSize: 13.6, fontFamily: FONT, fill: '#262626' }}
          tickFormatter={(v: number) => `${Math.round(Math.pow(v, 1 / GAMMA) * 100)}%`}
        />
        <Bar dataKey="value" fill="url(#viridisBar)" stroke="#111" strokeWidth={1} isAnimationActive={false} />
      </BarChart>
      <div
        style={{
          position: 'absolute',
          left: 77,
          top: 0,
          height: height + 24,
          width: 20,
          display: 'flex',
          alignItems: 'center',
          justifyContent: 'center',
        }}
      >
        <span
          style={{
            whiteSpace: 'nowrap',
            transform: 'rotate(-90deg)',
            fontFamily: FONT,
            fontSize: 13.7,
            color: '#262626',
            lineHeight: 1,
          }}
        >
          Probability of choosing an airport [%]
        </span>
      </div>
    </div>
  );
}

export default function App() {
  return (
    <div style={{ position: 'absolute', left: 0, top: 0, width: 1151, height: 619, background: '#fff', overflow: 'hidden' }}>
      {AIRPORTS.map((name, i) => (
        <Panel key={name} name={name} rows={VALUES[i]} col={i % 3} row={Math.floor(i / 3)} />
      ))}
      <Colorbar />
    </div>
  );
}
